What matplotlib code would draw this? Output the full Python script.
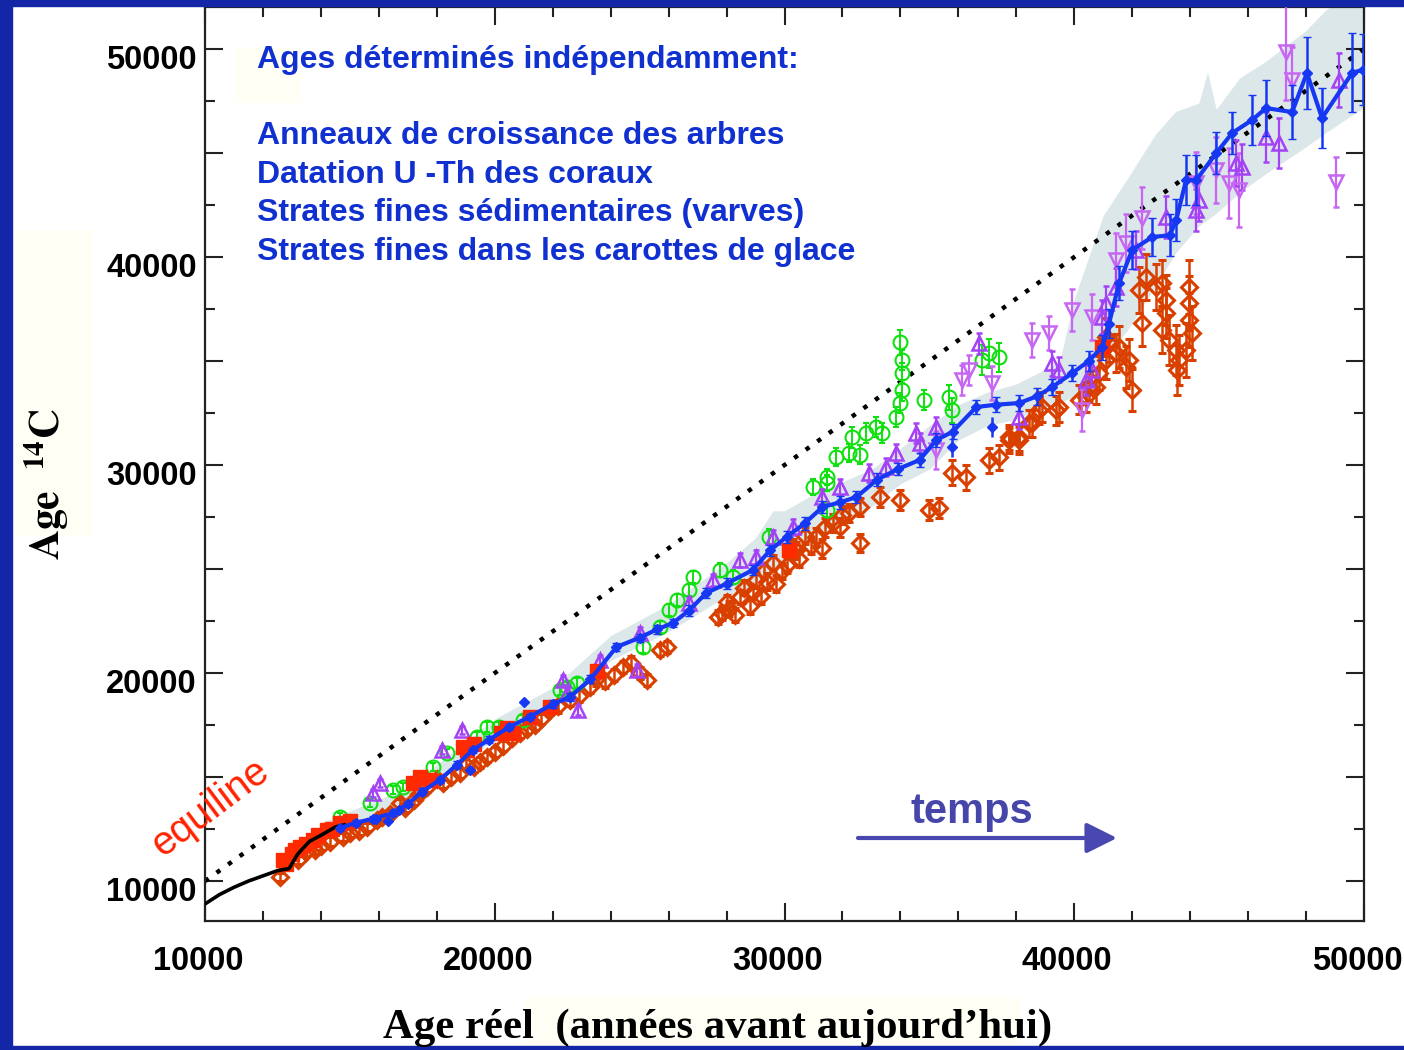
import numpy as np
import matplotlib
matplotlib.use("Agg")
import matplotlib.pyplot as plt
from matplotlib.patches import Rectangle
from matplotlib.transforms import ScaledTranslation

plt.rcParams['mathtext.fontset'] = 'stix'

# --- data ---
# tree rings (black line)
tree_x = [10000, 10500, 11000, 11500, 12000, 12500, 12900, 13200, 13600, 14000, 14500, 14800]
tree_y = [8900, 9350, 9700, 10000, 10250, 10500, 10600, 11300, 11900, 12200, 12600, 12700]

# main blue curve with error bars
blue_x = [14650, 15200, 15800, 16500, 17000, 17500, 18100, 18700, 19240, 19800, 20500, 21200,
          22000, 22600, 23300, 24200, 25000, 25600, 26140, 26700, 27300, 28000, 28900, 29500,
          30070, 30700, 31310, 31900, 32480, 33200, 33900, 34660, 35240, 35800, 36620, 37300,
          38100, 38700, 39240, 39930, 40500, 40970, 41200, 41550, 42000, 42690, 43300, 43520,
          43860, 44210, 44900, 45450, 46140, 46620, 47520, 48030, 48550, 49590, 49950]
blue_y = [12550, 12800, 13000, 13270, 13700, 14300, 14860, 15600, 16300, 16800, 17400, 17900,
          18500, 18850, 19700, 21250, 21700, 22100, 22400, 23000, 23850, 24300, 24950, 25900,
          26540, 27200, 27980, 28200, 28460, 29300, 29800, 30240, 31200, 31600, 32790, 32900,
          32980, 33300, 33750, 34420, 35000, 35670, 36800, 38750, 40340, 40960, 41050, 41780,
          43700, 43700, 45000, 45960, 46590, 47160, 46970, 48850, 46680, 48850, 49000]
blue_err = [150, 150, 150, 150, 150, 150, 150, 150, 150, 150, 150, 150,
            200, 200, 200, 200, 200, 200, 200, 250, 250, 250, 250, 250,
            300, 300, 300, 300, 300, 300, 300, 350, 350, 350, 350, 350,
            400, 400, 400, 400, 500, 600, 700, 800, 900, 900, 1000, 1000,
            1200, 1200, 1000, 1000, 1200, 1350, 1300, 1750, 1450, 1900, 1700]

# isolated blue points
bpt_x = [15900, 16300, 16700, 19140, 21000, 35790, 37170]
bpt_y = [13000, 12900, 13400, 15340, 18600, 30870, 31830]
bpt_err = [150, 150, 150, 200, 200, 500, 500]

# grey envelope
band_x = [14000, 17000, 20000, 22000, 24000, 26000, 28000, 29000, 29600, 30000, 31000, 32000,
          33000, 34000, 35000, 36000, 37000, 38000, 39000, 39500, 40000, 41000, 41800, 42800,
          43500, 44300, 44600, 44900, 45700, 46600, 48000, 48700, 50000]
band_lo = [12200, 13900, 16800, 18300, 20600, 22000, 23700, 24200, 25000, 25600, 26700, 27300,
           28000, 29100, 29800, 31200, 31900, 32200, 32800, 33000, 33300, 35200, 36400, 38600,
           40200, 41500, 41800, 42100, 43100, 44000, 45300, 46000, 47200]
band_hi = [12800, 14500, 17800, 19300, 21800, 23300, 25300, 26500, 27800, 27800, 28600, 29200,
           29800, 30800, 31900, 32900, 33500, 33900, 34600, 35000, 38000, 42000, 43700, 45900,
           47000, 47400, 48900, 47100, 48600, 49400, 50900, 51900, 53000]

# varves (orange diamonds)
org_x = [12590, 13500, 14000, 14760, 15300, 15930, 16400, 16720, 17200, 17650, 18200, 18790,
         19300, 19720, 20300, 20860, 21400, 21900, 22590, 23280, 23800, 24410, 25000, 25240,
         25690, 25930, 27700, 27860, 28100, 28300, 28450, 28800, 29030, 29200, 29400, 29590,
         29900, 30280, 30500, 30900, 31100, 31660, 32240, 32590, 32590, 33280, 33970, 35000,
         35340, 35790, 36280, 37070, 37410, 37760, 37760, 38100, 38100, 38450, 38550, 38790,
         38900, 39380, 39480, 40170, 40410, 40520, 40760, 40860, 41100, 41100, 41210, 41450,
         41550, 41790, 41900, 42000, 42240, 42340, 42480, 42830, 43030, 43030, 43170, 43170,
         43280, 43520, 43550, 43620, 43860, 43970, 43970, 43970, 44070,
         13200, 13800, 14300, 15000, 15600, 16100, 16900, 17400, 18000, 18500, 19000, 19500,
         20000, 20600, 21100, 21600, 22200, 22900, 23500, 24100, 24700,
         28000, 28600, 28900, 29300, 29700, 30100, 30400, 30700, 31300, 31400, 31900, 32000]
org_y = [10190, 11400, 11700, 12110, 12400, 12930, 13200, 13750, 13900, 14520, 14700, 15190,
         15500, 15960, 16500, 17120, 17500, 18220, 18700, 19330, 19600, 20290, 20000, 19660,
         21110, 21250, 22700, 22880, 23100, 22800, 23650, 23200, 24470, 23700, 24400, 25290,
         24900, 26060, 25500, 26100, 26540, 27210, 27690, 26250, 27980, 28460, 28320, 27840,
         27930, 29620, 29420, 30240, 30380, 31200, 31340, 31340, 31200, 32020, 32020, 32640,
         32790, 32640, 32790, 33130, 33270, 33750, 33750, 34420, 35050, 36150, 35860, 35380,
         35670, 34710, 35050, 33600, 38410, 36830, 39040, 38560, 38750, 36490, 37930, 37310,
         36010, 35530, 34570, 35050, 35530, 38560, 37790, 36970, 36350,
         11000, 11500, 11900, 12300, 12600, 13100, 13500, 14200, 14900, 15000, 15600, 15700,
         16200, 16900, 17300, 17800, 18400, 18900, 19700, 19900, 20500,
         23400, 24100, 23900, 24900, 24300, 25200, 25900, 26600, 26000, 27000, 27000, 27600]
org_err = [200, 200, 200, 200, 200, 200, 200, 200, 250, 250, 250, 250,
           250, 250, 250, 250, 250, 250, 300, 300, 300, 300, 300, 300,
           300, 300, 350, 350, 350, 350, 350, 350, 400, 400, 400, 400,
           400, 400, 400, 400, 450, 450, 450, 450, 450, 500, 500, 500,
           500, 600, 600, 600, 600, 600, 600, 650, 650, 650, 650, 650,
           700, 700, 700, 700, 700, 700, 800, 800, 900, 900, 900, 900,
           1000, 1000, 1000, 1000, 1100, 1100, 1100, 1100, 1100, 1100, 1200, 1200,
           1200, 1200, 1200, 1200, 1300, 1300, 1300, 1300, 1300,
           200, 200, 200, 200, 200, 200, 200, 250, 250, 250, 250, 250,
           250, 250, 250, 250, 300, 300, 300, 300, 300,
           350, 350, 350, 400, 400, 400, 400, 400, 450, 450, 450, 450]

# red filled squares
red_x = [12690, 13000, 13280, 13720, 14210, 14660, 17170, 17410, 17760, 18900, 19030, 20410,
         20620, 21900, 23520, 30170, 40970,
         12800, 13100, 13500, 13900, 14400, 15000, 19300, 20200, 21200]
red_y = [11010, 11300, 11630, 11970, 12450, 12790, 14710, 15000, 14860, 16440, 16300, 17350,
         17110, 18370, 20100, 25910, 35670,
         10800, 11500, 11800, 12200, 12500, 12900, 16600, 17100, 17900]

# corals (green circles)
grn_x = [14660, 15690, 16480, 16830, 17860, 18340, 19380, 19720, 20150, 20970, 22240, 22480,
         22830, 25100, 25690, 26030, 26280, 26720, 26830, 27760, 28210, 29480, 30970, 31450,
         31450, 31450, 31790, 32240, 32600, 32340, 32830, 33380, 33170, 33860, 33970, 34070,
         34070, 34070, 34000, 34830, 35690, 35790, 36830, 37070, 37410]
grn_y = [13080, 13750, 14380, 14520, 15480, 16150, 16920, 17400, 17400, 17740, 19180, 19330,
         19520, 21250, 22210, 23030, 23510, 23990, 24620, 24950, 24620, 26540, 28940, 29130,
         27840, 29420, 30380, 30580, 30500, 31340, 31540, 31540, 31830, 32310, 32980, 33600,
         34420, 35050, 35900, 33130, 33270, 32640, 35050, 35380, 35190]
grn_err = [200, 200, 200, 200, 200, 200, 250, 250, 250, 250, 250, 250,
           250, 300, 300, 300, 300, 300, 300, 350, 350, 400, 400, 400,
           400, 400, 450, 450, 450, 500, 500, 500, 500, 500, 500, 500,
           500, 500, 600, 500, 600, 600, 700, 700, 700]

# purple up triangles
pup_x = [15790, 16030, 18170, 18860, 22340, 22480, 22860, 23620, 24900, 25000, 26720, 27520,
         28450, 29030, 29590, 30280, 31310, 31900, 32930, 33520, 33860, 34660, 34550, 35240,
         36720, 38100, 39240, 39480, 40410, 40620, 40970, 41100, 41450, 42140, 43170, 44210,
         44310, 45590, 45790, 46620, 47070, 49140]
pup_y = [14230, 14710, 16300, 17260, 19660, 19040, 18220, 20620, 20140, 21920, 23370, 24470,
         25430, 25580, 26540, 27020, 28460, 28940, 29620, 29900, 30580, 31060, 31540, 31830,
         35860, 32310, 34900, 34570, 34090, 34570, 37120, 37790, 38560, 40340, 41920, 42260,
         42740, 44520, 44330, 45770, 45480, 48510]
pup_err = [200, 200, 200, 200, 250, 250, 250, 250, 300, 300, 300, 300,
           350, 350, 350, 400, 400, 400, 450, 450, 450, 500, 500, 500,
           500, 600, 600, 600, 700, 700, 800, 800, 900, 900, 1000, 1000,
           1000, 1100, 1100, 1200, 1200, 1300]

# violet down triangles
pdn_x = [35240, 36140, 36380, 37170, 38550, 39140, 39930, 40280, 40620, 41450, 41790, 42340,
         44210, 44900, 45340, 45690, 47310, 47520, 49030]
pdn_y = [30720, 34090, 34570, 33940, 36010, 36350, 37450, 32640, 37120, 39860, 40670, 41880,
         43560, 44180, 43560, 43220, 49860, 48510, 43600]
pdn_err = [900, 700, 700, 800, 800, 800, 1000, 1000, 1100, 1300, 1400, 1500,
           1500, 1600, 1700, 1800, 2300, 1600, 1200]

equi_x = [10000, 50000]
equi_y = [10000, 50000]

# --- figure ---
W, H = 1404, 1050
fig = plt.figure(figsize=(W / 100, H / 100), dpi=100)
fig.patch.set_facecolor('white')

def fx(px):
    return px / W

def fy(py):
    return 1 - py / H

# faint cream patches and blue frame
cream = '#fffff6'
for (x0, y0, x1, y1) in [(235, 48, 300, 102), (15, 230, 92, 535), (525, 997, 1020, 1045)]:
    fig.patches.append(Rectangle((fx(x0), fy(y1)), fx(x1 - x0), (y1 - y0) / H,
                                 transform=fig.transFigure, color=cream, zorder=0))
frame = '#1426a8'
fig.patches.append(Rectangle((0, 0), fx(12), 1, transform=fig.transFigure, color=frame, zorder=1))
fig.patches.append(Rectangle((0, fy(6)), 1, 6 / H, transform=fig.transFigure, color=frame, zorder=1))
fig.patches.append(Rectangle((0, 0), 1, 4 / H, transform=fig.transFigure, color=frame, zorder=1))

ax = fig.add_axes([fx(205), fy(921), fx(1364 - 205), (921 - 7) / H])
ax.set_facecolor('none')
ax.set_xlim(10000, 50000)
ax.set_ylim(8080, 52020)

ax.fill_between(band_x, band_lo, band_hi, color='#dce7ea', lw=0, zorder=1)
ax.plot(equi_x, equi_y, color='black', lw=3.2, dashes=(1.0, 2.2), dash_capstyle='butt', zorder=2)

c_org = '#d94000'
ax.errorbar(org_x, org_y, yerr=org_err, fmt='D', ms=8, mfc='none', mec=c_org, mew=2.2,
            ecolor=c_org, elinewidth=1.8, capsize=3, zorder=3)
c_grn = '#10e010'
ax.errorbar(grn_x, grn_y, yerr=grn_err, fmt='o', ms=10, mfc='none', mec=c_grn, mew=1.5,
            ecolor=c_grn, elinewidth=1.4, capsize=2.5, zorder=3)
c_pdn = '#c766f2'
ax.errorbar(pdn_x, pdn_y, yerr=pdn_err, fmt='v', ms=10, mfc='none', mec=c_pdn, mew=1.8,
            ecolor=c_pdn, elinewidth=1.6, capsize=2.5, zorder=4)
c_pup = '#a442f5'
ax.errorbar(pup_x, pup_y, yerr=pup_err, fmt='^', ms=10, mfc='none', mec=c_pup, mew=1.8,
            ecolor=c_pup, elinewidth=1.6, capsize=2.5, zorder=4)
ax.plot(red_x, red_y, 's', ms=10, color='#ff2a00', zorder=5)

c_blue = '#1638f2'
ax.errorbar(bpt_x, bpt_y, yerr=bpt_err, fmt='D', ms=5, color=c_blue, elinewidth=1.8,
            capsize=0, zorder=5)
ax.errorbar(blue_x, blue_y, yerr=blue_err, fmt='-D', ms=5, lw=3, color=c_blue,
            elinewidth=1.8, capsize=3, zorder=6)
ax.plot(tree_x, tree_y, color='black', lw=2.6, zorder=6)

# axes styling
for s in ax.spines.values():
    s.set_linewidth(1.6)
    s.set_color('#222222')
ax.set_xticks(np.arange(10000, 50001, 10000))
ax.set_xticks(np.arange(10000, 50001, 2000), minor=True)
ax.set_yticks(np.arange(10000, 50001, 5000))
ax.set_yticks(np.arange(10000, 50001, 2500), minor=True)
ax.set_yticklabels(['10000', '', '20000', '', '30000', '', '40000', '', '50000'])
ax.tick_params(which='both', direction='in', top=True, right=True, width=1.5, color='#222222')
ax.tick_params(which='major', length=13)
ax.tick_params(which='minor', length=7)
ax.tick_params(axis='x', pad=18)
ax.tick_params(axis='y', pad=6)
for lbl in ax.get_xticklabels() + ax.get_yticklabels():
    lbl.set_fontfamily('Liberation Sans')
    lbl.set_fontweight('bold')
    lbl.set_fontsize(23.5)
dx = ScaledTranslation(-0.07, 0, fig.dpi_scale_trans)
dy = ScaledTranslation(0, -0.08, fig.dpi_scale_trans)
for lbl in ax.get_xticklabels():
    lbl.set_transform(lbl.get_transform() + dx)
for lbl in ax.get_yticklabels():
    lbl.set_transform(lbl.get_transform() + dy)

# texts
txt_blue = '#1030d0'
fig.text(fx(257), fy(60), 'Ages déterminés indépendamment:', color=txt_blue, fontsize=23,
         fontweight='bold', family='Liberation Sans', va='center')
lines = ['Anneaux de croissance des arbres', 'Datation U -Th des coraux',
         'Strates fines sédimentaires (varves)', 'Strates fines dans les carottes de glace']
for i, t in enumerate(lines):
    fig.text(fx(257), fy(136 + 38.7 * i), t, color=txt_blue, fontsize=23, fontweight='bold',
             family='Liberation Sans', va='center')

fig.text(fx(210), fy(808), 'equiline', color='#ff2200', fontsize=28.5, rotation=37,
         family='Liberation Sans', ha='center', va='center')
fig.text(fx(972), fy(812), 'temps', color='#4646aa', fontsize=30, fontweight='bold',
         family='Liberation Sans', ha='center', va='center')
ax.annotate('', xy=(1117, H - 838), xytext=(858, H - 838), xycoords='figure pixels',
            textcoords='figure pixels',
            arrowprops=dict(arrowstyle='-|>,head_length=0.62,head_width=0.31', color='#4848b0',
                            lw=3, mutation_scale=30, shrinkA=0, shrinkB=0))

fig.text(fx(718), fy(1028), 'Age réel  (années avant aujourd’hui)', fontsize=30.8,
         fontweight='bold', family='Liberation Serif', ha='center', va='center')
fig.text(fx(47), fy(484), r'$\mathbf{Age}\ \ ^{\mathbf{14}}\mathbf{C}$', fontsize=30,
         rotation=90, ha='center', va='center')

fig.savefig('out.png', dpi=100)
